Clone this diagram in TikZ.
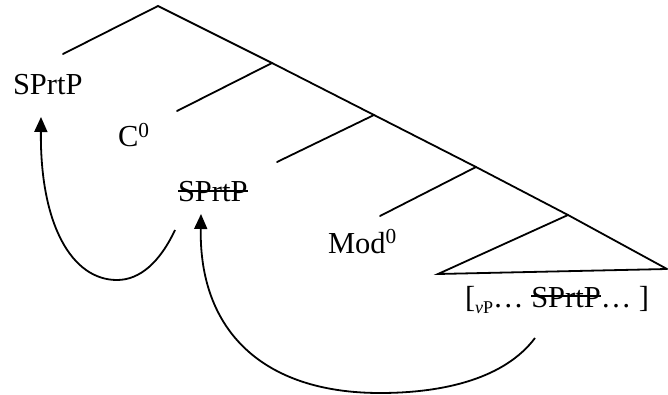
\documentclass[tikz,border=0pt]{standalone}
\usepackage{fontspec}
\setmainfont{Liberation Serif}
\usetikzlibrary{arrows.meta}
\newsavebox\strkbox
\newcommand\strk[1]{\sbox\strkbox{#1}\rlap{\usebox\strkbox}\rule[0.32em]{\wd\strkbox}{0.065em}}
\tikzset{
  branch/.style={line width=1.8pt, line cap=round},
  lbl/.style={anchor=base west, inner sep=0pt, outer sep=0pt, font=\fontsize{30.5}{36}\selectfont},
  move/.style={line width=1.8pt, -{Triangle[length=15pt,width=13pt]}}
}
\begin{document}
\begin{tikzpicture}[x=1pt,y=-1pt]
\useasboundingbox (0,0) rectangle (668,395);
% tree points
\coordinate (top) at (158,6);
\coordinate (l0) at (63,54);
\coordinate (n1) at (272,63);
\coordinate (l1) at (177,111);
\coordinate (n2) at (374,115);
\coordinate (l2) at (277,162);
\coordinate (n3) at (476,167);
\coordinate (l3) at (380,216);
\coordinate (n4) at (568,215);
\coordinate (tl) at (438,274);
\coordinate (tr) at (667,269);
% branches
\draw[branch] (l0) -- (top) -- (n1) -- (n2) -- (n3) -- (n4) -- (tr);
\draw[branch] (n1) -- (l1);
\draw[branch] (n2) -- (l2);
\draw[branch] (n3) -- (l3);
\draw[branch] (n4) -- (tl) -- (tr);
% labels
\node[lbl] (sp1) at (13,95) {SPrtP};
\node[lbl] (c0) at (118,147) {C\textsuperscript{0}};
\node[lbl] (sp2) at (178,202) {\strk{SPrtP}};
\node[lbl] (mod) at (328,253) {Mod\textsuperscript{0}};
\node[lbl] (vp) at (465,307) {[\raisebox{-0.2em}{\fontsize{18}{20}\selectfont\textit{v}P}\ldots\ \strk{SPrtP}\ldots\ ]};
% arrow ends
\coordinate (a1s) at (175,230);
\coordinate (a1e) at (41,117);
\coordinate (a2s) at (535,338);
\coordinate (a2e) at (201,214);
% movement arrows
\draw[move] (a1s) .. controls (160,262) and (140,280) .. (117,280)
  .. controls (72,280) and (40,225) .. (a1e);
\draw[move] (a2s) .. controls (505,378) and (445,393) .. (380,393)
  .. controls (262,393) and (199,330) .. (a2e);
\end{tikzpicture}
\end{document}
